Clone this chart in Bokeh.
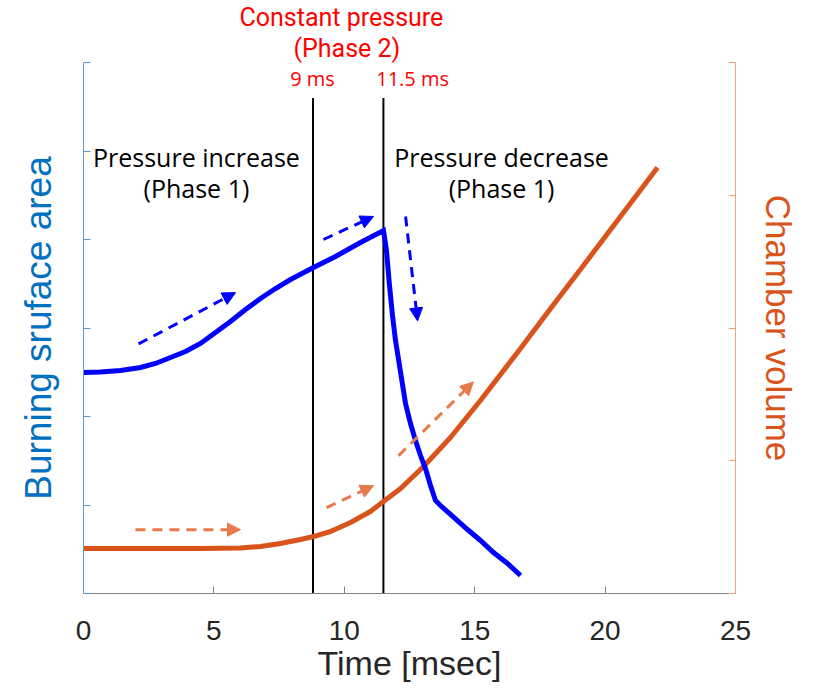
from bokeh.plotting import figure
from bokeh.models import Range1d, LinearAxis, FixedTicker, Arrow, NormalHead, Label, Title
from bokeh.embed import file_html
from bokeh.resources import INLINE

# ---- data ----
time_blue = [0.0, 0.652, 1.419, 2.186, 2.761, 3.336, 3.911, 4.486, 5.061, 5.636, 6.212,
             6.787, 7.362, 7.937, 8.819, 9.663, 10.621, 11.503,
             11.618, 11.733, 11.848, 11.963, 12.117, 12.347, 12.538, 12.730, 12.922,
             13.113, 13.305, 13.497, 13.689, 14.072, 14.724, 15.222, 15.721, 16.258, 16.756]
area_blue = [2.497, 2.503, 2.520, 2.554, 2.599, 2.667, 2.734, 2.825, 2.949, 3.073, 3.209,
             3.333, 3.446, 3.548, 3.684, 3.808, 3.966, 4.102,
             3.876, 3.480, 3.141, 2.859, 2.576, 2.147, 1.921, 1.729, 1.559,
             1.412, 1.220, 1.051, 0.994, 0.893, 0.723, 0.599, 0.463, 0.339, 0.203]

time_orange = [0.0, 4.49, 6.02, 6.79, 7.55, 8.32, 8.82, 9.47, 10.24, 11.0, 11.5,
               12.16, 13.04, 14.07, 15.22, 16.64, 17.91, 19.17, 20.59, 22.01]
volume_orange = [0.339, 0.339, 0.343, 0.354, 0.377, 0.407, 0.429, 0.467, 0.535, 0.618, 0.693,
                 0.791, 0.957, 1.175, 1.454, 1.816, 2.147, 2.471, 2.840, 3.209]

phase_lines_x = [8.8, 11.5]
phase_line_top = 5.6

x_ticks = [0, 5, 10, 15, 20, 25]
left_ticks = [0, 1, 2, 3, 4, 5, 6]
right_ticks = [0, 1, 2, 3, 4]

# arrows: (x_start, y_start, x_end, y_end)
blue_arrows = [(2.11, 2.82, 5.83, 3.40), (9.20, 4.00, 11.12, 4.26), (12.35, 4.26, 12.81, 3.08)]
orange_arrows = [(1.99, 0.481, 6.02, 0.481), (9.32, 0.647, 11.12, 0.812), (12.08, 1.038, 14.95, 1.594)]

BLUE = "#0000ff"
ORANGE = "#d9541a"
ORANGE_LIGHT = "#e8794a"
LEFT_AXIS = "#5b9bd5"
RIGHT_AXIS = "#eea27f"

p = figure(width=818, height=692, output_backend="svg", toolbar_location=None,
           x_range=Range1d(0, 25), y_range=Range1d(0, 6),
           min_border_left=83, min_border_right=83, min_border_top=62, min_border_bottom=99)
p.extra_y_ranges = {"right": Range1d(0, 4)}
p.outline_line_color = None
p.grid.visible = False

# bottom axis
xa = p.xaxis[0]
xa.ticker = FixedTicker(ticks=x_ticks)
xa.minor_tick_line_color = None
xa.major_tick_in = 7
xa.major_tick_out = 0
xa.axis_line_color = "#808080"
xa.major_tick_line_color = "#808080"
xa.major_label_text_font = "Liberation Sans"
xa.major_label_text_font_size = "28px"
xa.major_label_text_color = "#262626"
xa.major_label_standoff = 27
xa.axis_label = "Time [msec]"
xa.axis_label_text_font = "Liberation Sans"
xa.axis_label_text_font_size = "34px"
xa.axis_label_text_font_style = "normal"
xa.axis_label_text_color = "#262626"
xa.axis_label_standoff = 1

# left axis
ya = p.yaxis[0]
ya.ticker = FixedTicker(ticks=left_ticks)
ya.minor_tick_line_color = None
ya.major_tick_in = 7
ya.major_tick_out = 0
ya.axis_line_color = LEFT_AXIS
ya.major_tick_line_color = LEFT_AXIS
ya.major_label_text_font_size = "0px"
ya.major_label_standoff = 0
ya.axis_label = "Burning sruface area"
ya.axis_label_text_font = "Liberation Sans"
ya.axis_label_text_font_size = "37px"
ya.axis_label_text_font_style = "normal"
ya.axis_label_text_color = "#0070c0"
ya.axis_label_standoff = 25

# right axis
ra = LinearAxis(y_range_name="right", ticker=FixedTicker(ticks=right_ticks))
ra.minor_tick_line_color = None
ra.major_tick_in = 7
ra.major_tick_out = 0
ra.axis_line_color = RIGHT_AXIS
ra.major_tick_line_color = RIGHT_AXIS
ra.major_label_text_font_size = "0px"
ra.major_label_standoff = 0
ra.axis_label = "Chamber volume"
ra.axis_label_text_font = "Liberation Sans"
ra.axis_label_text_font_size = "35px"
ra.axis_label_text_font_style = "normal"
ra.axis_label_text_color = ORANGE
ra.axis_label_standoff = 23
p.add_layout(ra, "right")

# header texts above the frame (inner line first, outer line second)
p.add_layout(Title(text="(Phase 2)", text_color="#ff0000", text_font="Roboto",
                   text_font_size="25px", text_font_style="normal", align="left",
                   offset=210, standoff=0), "above")
p.add_layout(Title(text="Constant pressure", text_color="#ff0000", text_font="Roboto",
                   text_font_size="25px", text_font_style="normal", align="left",
                   offset=156, standoff=0), "above")

# phase boundary lines
p.segment(x0=phase_lines_x, y0=[0] * len(phase_lines_x), x1=phase_lines_x,
          y1=[phase_line_top] * len(phase_lines_x), line_color="black", line_width=2)

# curves
p.line(time_orange, volume_orange, y_range_name="right", line_color=ORANGE, line_width=5,
       line_join="round")
p.line(time_blue, area_blue, line_color=BLUE, line_width=5, line_join="miter")

# dashed arrows
for (x0, y0, x1, y1) in blue_arrows:
    p.add_layout(Arrow(x_start=x0, y_start=y0, x_end=x1, y_end=y1,
                       line_color=BLUE, line_width=3, line_dash="10 7",
                       end=NormalHead(size=13, fill_color=BLUE, line_color=BLUE, line_width=1)))
for (x0, y0, x1, y1) in orange_arrows:
    p.add_layout(Arrow(x_start=x0, y_start=y0, x_end=x1, y_end=y1, y_range_name="right",
                       line_color=ORANGE_LIGHT, line_width=3, line_dash="10 7",
                       end=NormalHead(size=13, fill_color=ORANGE_LIGHT, line_color=ORANGE_LIGHT,
                                      line_width=1)))

def add_text(x, y, txt, color, size):
    p.add_layout(Label(x=x, y=y, text=txt, text_color=color, text_font="Open Sans",
                       text_font_size=size, text_align="center", text_baseline="middle"))

add_text(8.78, 5.82, "9 ms", "#ff0000", "20px")
add_text(12.62, 5.82, "11.5 ms", "#ff0000", "20px")
add_text(4.33, 4.93, "Pressure increase", "black", "25px")
add_text(4.33, 4.58, "(Phase 1)", "black", "25px")
add_text(16.03, 4.93, "Pressure decrease", "black", "25px")
add_text(16.03, 4.58, "(Phase 1)", "black", "25px")

open("out.html", "w").write(file_html(p, INLINE))
